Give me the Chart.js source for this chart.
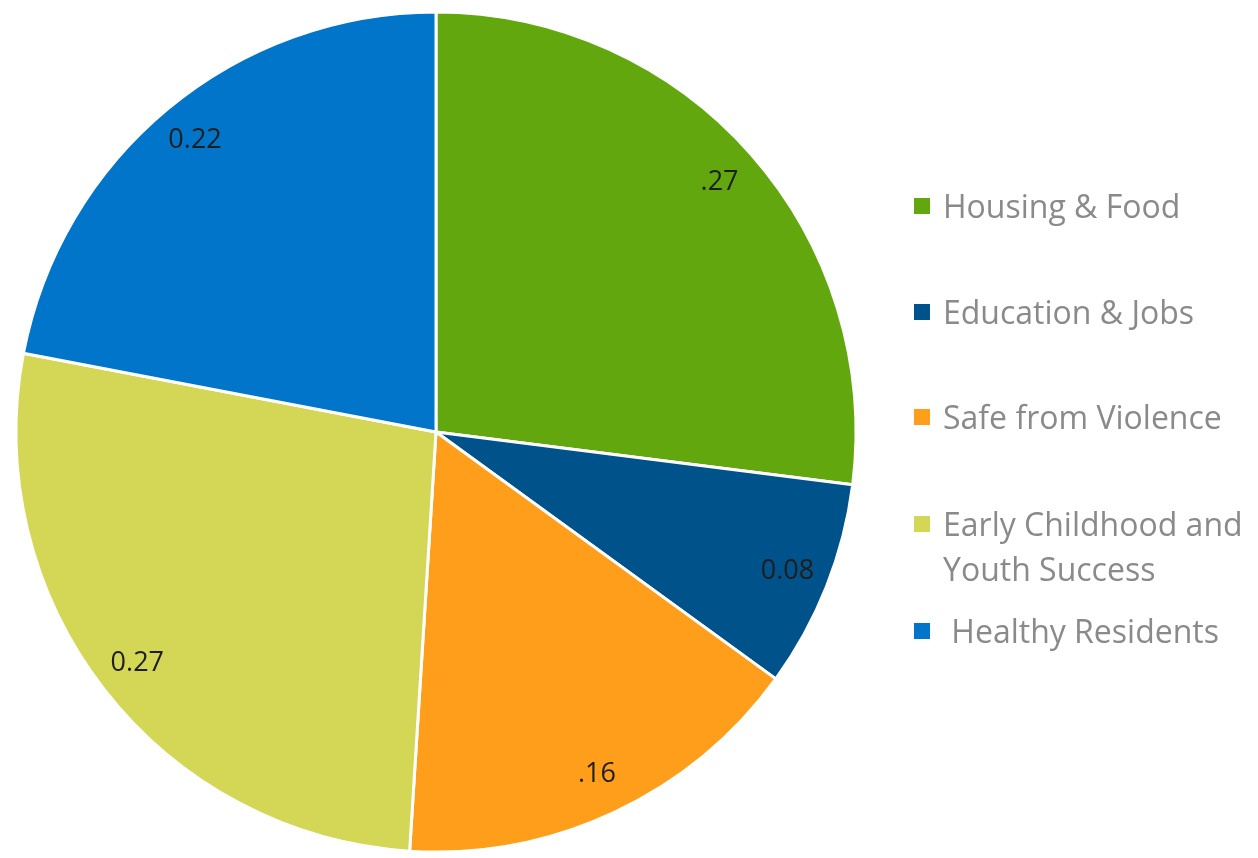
<!DOCTYPE html>
<html>
<head>
<meta charset="utf-8">
<script src="https://cdn.jsdelivr.net/npm/chart.js@4.4.0/dist/chart.umd.min.js"></script>
<style>
    html, body { margin: 0; padding: 0; background: #fff; }
    #wrap { position: relative; width: 1258px; height: 858px; }
    #pie { position: absolute; left: 0; top: 0; }
    .legend-item {
        position: absolute;
        left: 914px;
        font-family: 'Open Sans', sans-serif;
        font-size: 32px;
        line-height: 45px;
        color: #8a8a8a;
        white-space: pre;
    }
    .legend-item .box {
        position: absolute;
        left: 0;
        top: 15px;
        width: 16px;
        height: 16px;
    }
    .legend-item .txt { position: absolute; left: 29px; top: 0; }
</style>
</head>
<body>
<div id="wrap">
    <canvas id="pie" width="1258" height="858"></canvas>
    <div id="legend"></div>
</div>
<script>
    // Chart data
    const categories = ['Housing & Food', 'Education & Jobs', 'Safe from Violence', 'Early Childhood and\nYouth Success', ' Healthy Residents'];
    const values = [0.27, 0.08, 0.16, 0.27, 0.22];
    const valueLabels = ['.27', '0.08', '.16', '0.27', '0.22'];
    const colors = ['#63a70f', '#00528a', '#ff9e1b', '#d4d756', '#0075c9'];

    // Legend (HTML), vertical centers of first lines
    const legendTops = [205, 311, 416, 523, 630];
    const legend = document.getElementById('legend');
    categories.forEach((name, i) => {
        const item = document.createElement('div');
        item.className = 'legend-item';
        item.style.top = (legendTops[i] - 22) + 'px';
        const box = document.createElement('div');
        box.className = 'box';
        box.style.background = colors[i];
        const txt = document.createElement('div');
        txt.className = 'txt';
        txt.textContent = name;
        item.appendChild(box);
        item.appendChild(txt);
        legend.appendChild(item);
    });

    // Value labels drawn near the outer edge of each slice
    const sliceLabels = {
        id: 'sliceLabels',
        afterDatasetsDraw(chart) {
            const c = chart.ctx;
            const meta = chart.getDatasetMeta(0);
            c.save();
            c.font = "27px 'Open Sans', sans-serif";
            c.fillStyle = '#1e1e1e';
            c.textAlign = 'center';
            c.textBaseline = 'middle';
            meta.data.forEach((arc, i) => {
                const p = arc.getProps(['x', 'y', 'startAngle', 'endAngle', 'outerRadius']);
                const mid = (p.startAngle + p.endAngle) / 2;
                const r = p.outerRadius * 0.9;
                c.fillText(valueLabels[i], p.x + Math.cos(mid) * r, p.y + Math.sin(mid) * r);
            });
            c.restore();
        }
    };

    new Chart(document.getElementById('pie'), {
        type: 'pie',
        data: {
            labels: categories,
            datasets: [{
                data: values,
                backgroundColor: colors,
                borderColor: '#ffffff',
                borderWidth: 3
            }]
        },
        options: {
            responsive: false,
            animation: false,
            radius: 420,
            layout: { padding: { left: 0, right: 386, top: 6, bottom: 0 } },
            plugins: {
                legend: { display: false },
                tooltip: { enabled: false }
            }
        },
        plugins: [sliceLabels]
    });
</script>
</body>
</html>
